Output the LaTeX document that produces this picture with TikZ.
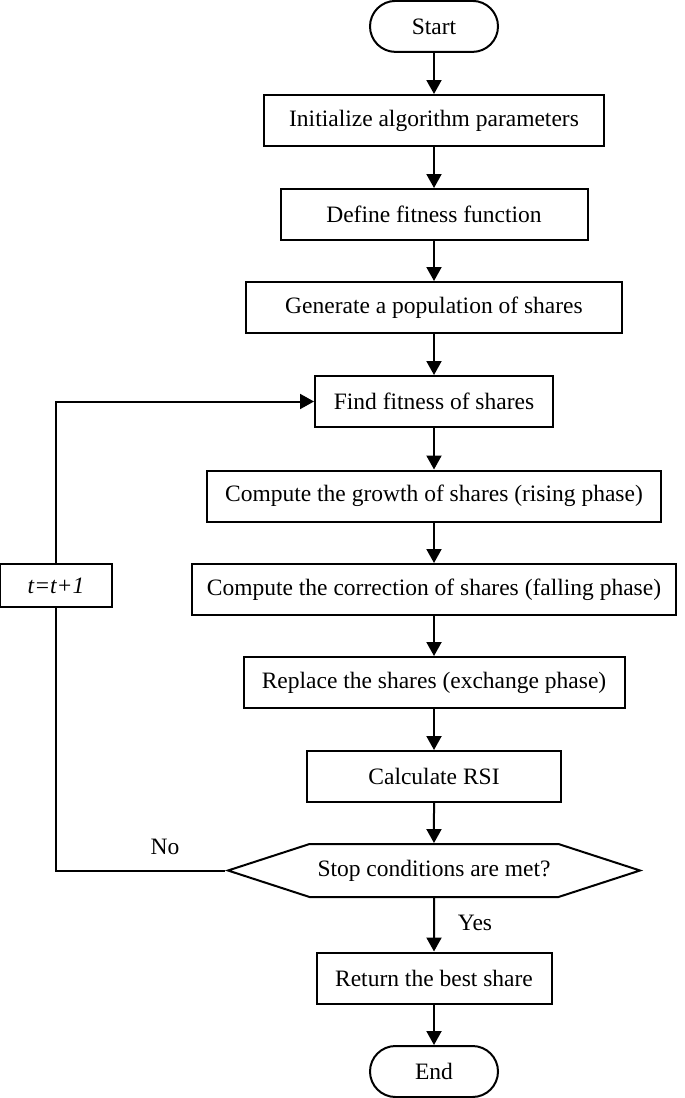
\documentclass[tikz,border=0pt]{standalone}
\usepackage{fontspec}
\setmainfont{Liberation Serif}
\usetikzlibrary{arrows.meta,shapes.symbols,positioning}
\tikzset{
  process/.style={draw, line width=1pt, rectangle, inner sep=0pt, minimum height=25.5pt, font=\fontsize{11.75}{14}\selectfont},
  terminal/.style={process, rounded corners=12.75pt, minimum width=64pt},
  decision/.style={process, signal, signal to=west and east, signal pointer angle=36, minimum width=206pt, minimum height=26.5pt},
  flow/.style={line width=1pt, -{Triangle[length=7pt,width=7.5pt]}},
  link/.style={line width=1pt},
  tag/.style={font=\fontsize{11.75}{14}\selectfont, inner sep=0pt}
}

\begin{document}
\begin{tikzpicture}[x=1pt,y=1pt]
    \useasboundingbox (0,0) rectangle (342.5,-549);
    \node[terminal] (start) at (217,-13.2) {Start};
    \node[process, minimum width=170pt] (init) at (217,-60.25) {Initialize algorithm parameters};
    \node[process, minimum width=153.5pt] (fit) at (217,-107.25) {Define fitness function};
    \node[process, minimum width=188pt] (pop) at (217,-153.75) {Generate a population of shares};
    \node[process, minimum width=119pt] (find) at (217,-200.75) {Find fitness of shares};
    \node[process, minimum width=227pt] (rise) at (217,-248) {Compute the growth of shares (rising phase)};
    \node[process, minimum width=242pt] (fall) at (217,-294.75) {Compute the correction of shares (falling phase)};
    \node[process, minimum width=190.5pt] (swap) at (217,-341.25) {Replace the shares (exchange phase)};
    \node[process, minimum width=127pt] (rsi) at (217,-388.25) {Calculate RSI};
    \node[decision] (stop) at (217,-435.25) {Stop conditions are met?};
    \node[process, minimum width=117.5pt] (best) at (217,-489) {Return the best share};
    \node[terminal] (end) at (217,-535.75) {End};
    \node[process, minimum width=56pt, minimum height=21.5pt] (iter) at (28,-292.75) {\textit{t=t+1}};

    \draw[flow] (start) -- (init);
    \draw[flow] (init) -- (fit);
    \draw[flow] (fit) -- (pop);
    \draw[flow] (pop) -- (find);
    \draw[flow] (find) -- (rise);
    \draw[flow] (rise) -- (fall);
    \draw[flow] (fall) -- (swap);
    \draw[flow] (swap) -- (rsi);
    \draw[flow] (rsi) -- (stop);
    \draw[flow] (stop) -- (best);
    \draw[flow] (best) -- (end);
    \draw[link] (stop.west) -| (iter.south);
    \draw[flow] (iter.north) |- (find.west);

    \node[tag] (no) at (82.5,-423.5) {No};
    \node[tag] (yes) at (237.5,-461.5) {Yes};
\end{tikzpicture}
\end{document}
